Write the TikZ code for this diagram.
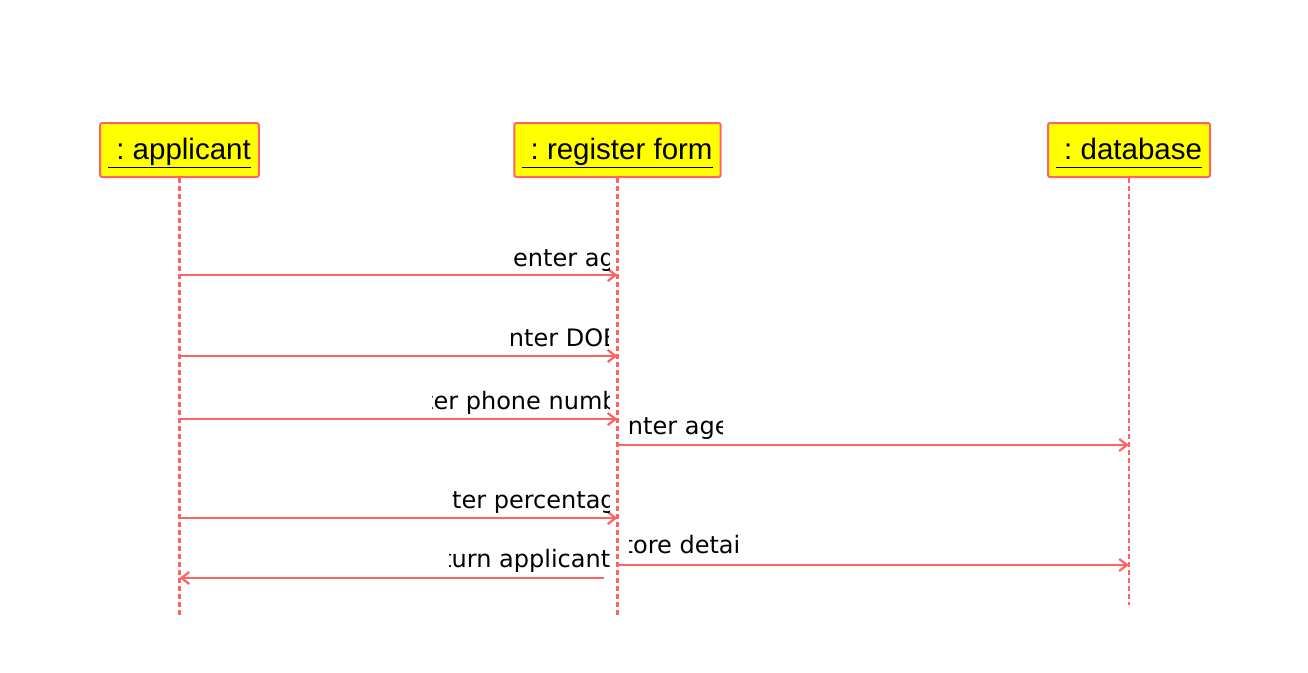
\documentclass[tikz,border=0pt]{standalone}
\usepackage{fontspec}
\setmainfont{Liberation Sans}
\newfontfamily\msgfont{DejaVu Sans}
\usepackage{tikz}
\usetikzlibrary{arrows.meta, positioning}
\definecolor{umlred}{HTML}{FF6464}
\definecolor{umlyellow}{HTML}{FFFF00}
\newcommand\msglabel[6]{%
  \begin{scope}
    \clip (#1,#3-30) rectangle (#2,#3+8);
    \node[lbl, anchor=base west] (#6) at (#4,#3) {#5};
  \end{scope}}
\newcommand\objname[1]{\raisebox{-3pt}[\height][\depth]{\underline{\vphantom{p}\ :\ #1}}}

\begin{document}
\begin{tikzpicture}[x=1pt, y=-1pt,
        object/.style={rectangle, draw=umlred, fill=umlyellow, line width=2pt, rounded corners=2pt, minimum height=54pt, inner xsep=8pt, inner ysep=0pt, font=\fontsize{29.5}{34}\selectfont},
        lifeline/.style={umlred, line width=2.2pt, dash pattern=on 5pt off 3pt},
        msg/.style={umlred, line width=2.2pt, -{Straight Barb[length=8pt, width=12pt]}},
        lbl/.style={inner sep=0pt, font=\msgfont\fontsize{24}{28}\selectfont}
    ]
        \useasboundingbox (0,0) rectangle (1308,672);
        \node[object] (app) at (179.5,150) {\objname{applicant}};
        \node[object] (form) at (617.5,150) {\objname{register form}};
        \node[object] (db) at (1129,150) {\objname{database}};
        \coordinate (append) at (180,617);
        \coordinate (formend) at (617,617);
        \coordinate (dbend) at (1128,605);
        \coordinate (retstart) at (604,578);
        \draw[lifeline] (app.south) -- (app.south |- append);
        \draw[lifeline] (form.south) -- (form.south |- formend);
        \draw[lifeline] (db.south) -- (db.south |- dbend);
        \draw[msg] (app.south |- 0,275) -- (form.south |- 0,275);
        \draw[msg] (app.south |- 0,356) -- (form.south |- 0,356);
        \draw[msg] (app.south |- 0,419) -- (form.south |- 0,419);
        \draw[msg] (form.south |- 0,445) -- (db.south |- 0,445);
        \draw[msg] (app.south |- 0,518) -- (form.south |- 0,518);
        \draw[msg] (form.south |- 0,565) -- (db.south |- 0,565);
        \draw[msg] (retstart) -- (app.south |- retstart);
        \msglabel{500}{609}{266}{513}{enter age}{m1}
        \msglabel{511}{608}{346}{494}{enter DOB}{m2}
        \msglabel{432}{609}{409}{394}{enter phone number}{m3}
        \msglabel{628}{722}{434}{613}{enter age}{m4}
        \msglabel{452}{609}{508}{422}{enter percentage}{m5}
        \msglabel{449}{609}{567}{418}{return applicant}{m6}
        \msglabel{629}{741}{553}{611}{store details}{m7}
    \end{tikzpicture}
\end{document}
